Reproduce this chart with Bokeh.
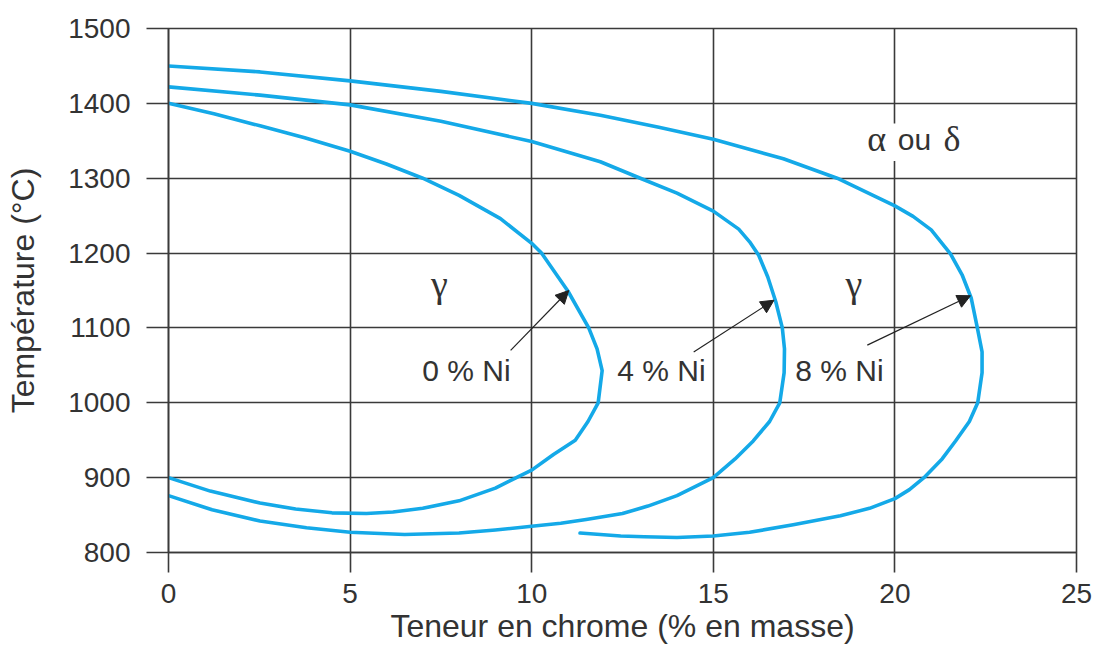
from bokeh.plotting import figure
from bokeh.models import Range1d, FixedTicker, Arrow, NormalHead
from bokeh.embed import file_html
from bokeh.resources import INLINE
from bokeh.core.properties import value

# ---------------- data ----------------
x_ticks = [0, 5, 10, 15, 20, 25]
y_ticks = [800, 900, 1000, 1100, 1200, 1300, 1400, 1500]

# 0 % Ni loop (chrome %, temperature °C)
cr_0ni = [0, 1.25, 2.52, 3.75, 5, 6, 7, 8, 9.14, 10, 10.27, 11.0, 11.57, 11.8, 11.94,
          11.83, 11.55, 11.2, 10.6, 10, 9.62, 9, 8, 7, 6.18, 5.45, 4.5, 3.5, 2.52, 1.15, 0]
t_0ni = [1400, 1386, 1370, 1354, 1336, 1319, 1300, 1277, 1246, 1213, 1200, 1149, 1100, 1072, 1043,
         1000, 975, 950, 931, 910, 901, 886, 869, 859, 854, 852, 853, 858, 866, 882, 900]

# 4 % Ni loop
cr_4ni = [0, 2.52, 5, 7.5, 10, 11.89, 12.99, 14, 15, 15.7, 16.0, 16.25, 16.5, 16.72, 16.9, 16.96,
          16.95, 16.83, 16.55, 16.1, 15.6, 15, 14.0, 13.2, 12.5, 11.5, 10.8, 10, 9, 8, 6.5, 5,
          3.8, 2.52, 1.2, 0]
t_4ni = [1422, 1411, 1398, 1376, 1349, 1322, 1300, 1280, 1256, 1232, 1215, 1197, 1168, 1135, 1100, 1072,
         1040, 1000, 975, 949, 925, 900, 876, 862, 852, 844, 839, 835, 830, 826, 824, 827,
         833, 842, 857, 876]

# 8 % Ni loop (open curve)
cr_8ni = [0, 2.52, 5, 7.5, 10, 11.89, 13.5, 15, 16.93, 18.41, 20, 20.5, 21.0, 21.53, 21.85, 22.1,
          22.27, 22.4, 22.4, 22.28, 22.05, 21.67, 21.3, 20.8, 20.4, 20, 19.3, 18.5, 17.2, 16, 15,
          14, 13.1, 12.45, 11.33]
t_8ni = [1450, 1442, 1430, 1416, 1400, 1384, 1368, 1352, 1326, 1300, 1263, 1249, 1231, 1199, 1171, 1140,
         1100, 1068, 1040, 1000, 975, 949, 925, 900, 884, 872, 859, 849, 837, 827, 822,
         820, 821, 822, 826]

series_labels = ["0 % Ni", "4 % Ni", "8 % Ni"]

CURVE = "#14a9e8"
INK = "#333333"
GRID = "#3a3a3a"

p = figure(width=1100, height=654,
           x_range=Range1d(0, 25), y_range=Range1d(800, 1500),
           min_border_left=168, min_border_right=24, min_border_top=28, min_border_bottom=102,
           output_backend="svg", toolbar_location=None)
p.background_fill_color = "white"
p.border_fill_color = "white"
p.outline_line_color = GRID
p.outline_line_width = 1.6

p.xaxis.ticker = FixedTicker(ticks=x_ticks)
p.yaxis.ticker = FixedTicker(ticks=y_ticks)
for ax in (p.xaxis, p.yaxis):
    ax.minor_tick_line_color = None
    ax.major_tick_in = 0
    ax.major_tick_line_color = GRID
    ax.major_tick_line_width = 1.6
    ax.axis_line_color = GRID
    ax.axis_line_width = 1.6
    ax.major_label_text_font = "Liberation Sans"
    ax.major_label_text_font_size = "28px"
    ax.major_label_text_color = INK
    ax.axis_label_text_font = "Liberation Sans"
    ax.axis_label_text_font_style = "normal"
    ax.axis_label_text_color = INK

p.yaxis.major_tick_out = 22
p.yaxis.major_label_standoff = 16
p.yaxis.axis_label = "Température (°C)"
p.yaxis.axis_label_text_font_size = "32px"
p.yaxis.axis_label_standoff = 24

p.xaxis.major_tick_out = 20
p.xaxis.major_label_standoff = 11
p.xaxis.axis_label = "Teneur en chrome (% en masse)"
p.xaxis.axis_label_text_font_size = "32px"
p.xaxis.axis_label_standoff = 2

p.xgrid.ticker = FixedTicker(ticks=x_ticks)
p.ygrid.ticker = FixedTicker(ticks=y_ticks)
for g in (p.xgrid, p.ygrid):
    g.grid_line_color = GRID
    g.grid_line_width = 1.6

# curves
for xs, ys in ((cr_0ni, t_0ni), (cr_4ni, t_4ni), (cr_8ni, t_8ni)):
    p.line(xs, ys, line_color=CURVE, line_width=3.6, line_join="round", line_cap="round")

# arrows from labels to curves
arrow_specs = [((9.42, 1070), (11.02, 1150)),
               ((14.46, 1068), (16.67, 1137)),
               ((19.24, 1077), (22.08, 1143))]
for (xs_, ys_), (xe_, ye_) in arrow_specs:
    p.add_layout(Arrow(end=NormalHead(size=13, fill_color="#222222", line_color="#222222"),
                       x_start=xs_, y_start=ys_, x_end=xe_, y_end=ye_,
                       line_color="#222222", line_width=1.2))

# Ni labels
p.text(x=[9.42, 14.79, 19.69], y=[1043, 1043, 1043], text=series_labels,
       text_font=value("Liberation Sans"), text_font_size="30px", text_color=INK,
       text_align="right", text_baseline="alphabetic")

# gamma labels
p.text(x=[7.46, 18.87], y=[1159, 1159], text=["γ", "γ"],
       text_font=value("Liberation Serif"), text_font_size="38px", text_color=INK,
       text_align="center", text_baseline="alphabetic")

# "α ou δ" label with white box
p.quad(left=[19.12], right=[21.92], bottom=[1323], top=[1373], fill_color="white", line_color=None)
p.text(x=[19.5, 21.57], y=[1352, 1352], text=["α", "δ"],
       text_font=value("Liberation Serif"), text_font_size="36px", text_color=INK,
       text_align="center", text_baseline="alphabetic")
p.text(x=[20.54], y=[1352], text=["ou"],
       text_font=value("Liberation Sans"), text_font_size="30px", text_color=INK,
       text_align="center", text_baseline="alphabetic")

open("out.html", "w").write(file_html(p, INLINE))
